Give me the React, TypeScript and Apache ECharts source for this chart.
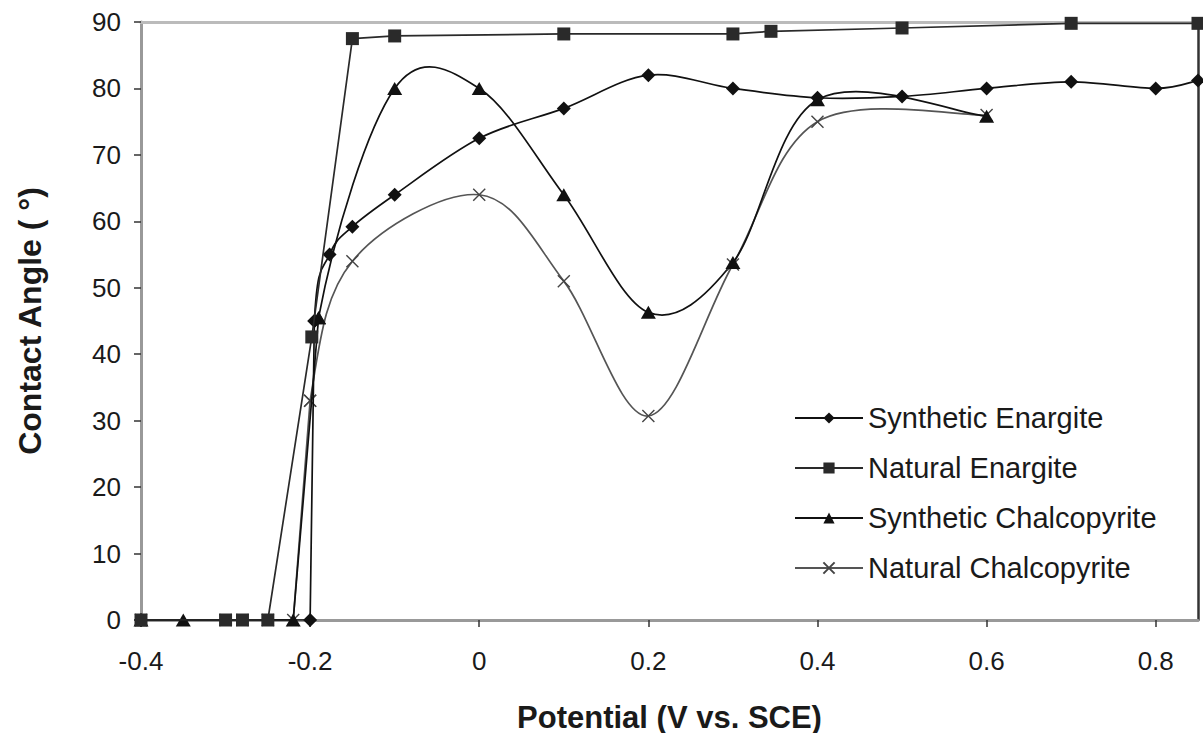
import { useEffect, useRef } from "react";
import * as echarts from "echarts";

// Axis ranges (potential in V vs. SCE, contact angle in degrees)
const xRange = { min: -0.4, max: 0.85, interval: 0.2 };
const yRange = { min: 0, max: 90, interval: 10 };

const names = [
  "Synthetic Enargite",
  "Natural Enargite",
  "Synthetic Chalcopyrite",
  "Natural Chalcopyrite",
];

// [potential, contact angle]
const syntheticEnargite: number[][] = [
  [-0.4, 0], [-0.2, 0], [-0.195, 45], [-0.177, 55], [-0.15, 59.2], [-0.1, 64],
  [0, 72.5], [0.1, 77], [0.2, 82], [0.3, 80], [0.4, 78.6], [0.5, 78.8],
  [0.6, 80], [0.7, 81], [0.8, 80], [0.85, 81.2],
];
const naturalEnargite: number[][] = [
  [-0.4, 0], [-0.3, 0], [-0.28, 0], [-0.25, 0], [-0.198, 42.6], [-0.15, 87.5],
  [-0.1, 87.9], [0.1, 88.2], [0.3, 88.2], [0.345, 88.6], [0.5, 89.1],
  [0.7, 89.8], [0.85, 89.8],
];
const syntheticChalcopyrite: number[][] = [
  [-0.4, 0], [-0.35, 0], [-0.22, 0], [-0.19, 45.5], [-0.1, 80], [0, 80],
  [0.1, 64], [0.2, 46.3], [0.3, 53.8], [0.4, 78.3], [0.6, 75.8],
];
const naturalChalcopyrite: number[][] = [
  [-0.4, 0], [-0.3, 0], [-0.28, 0], [-0.25, 0], [-0.22, 0], [-0.2, 33],
  [-0.15, 54], [0, 64], [0.1, 51], [0.2, 30.7], [0.3, 53.5], [0.4, 75],
  [0.6, 76],
];

// index of the first point after the sharp take-off from zero;
// from there on the series is drawn as a smoothed curve
const takeOff = { synE: 2, synC: 3, natC: 5 };

const crossSymbol = "path://M0,0L10,10M10,0L0,10";

// Smoothed line through the points (Catmull-Rom segments as cubic Beziers),
// positioned with the chart's own coordinate system.
function smoothCurve(pts: number[][], before: number[] | null, color: string, width: number) {
  return {
    type: "custom",
    coordinateSystem: "cartesian2d",
    data: pts,
    encode: { x: 0, y: 1 },
    silent: true,
    z: 2,
    renderItem: (params: any, api: any) => {
      const i = params.dataIndex;
      if (i >= pts.length - 1) return { type: "group", children: [] };
      const p1 = api.coord(pts[i]);
      const p2 = api.coord(pts[i + 1]);
      const p0 = i > 0 ? api.coord(pts[i - 1]) : before ? api.coord(before) : p1;
      const p3 = i + 2 < pts.length ? api.coord(pts[i + 2]) : p2;
      const k = 1 / 6;
      return {
        type: "bezierCurve",
        shape: {
          x1: p1[0],
          y1: p1[1],
          x2: p2[0],
          y2: p2[1],
          cpx1: p1[0] + (p2[0] - p0[0]) * k,
          cpy1: p1[1] + (p2[1] - p0[1]) * k,
          cpx2: p2[0] - (p3[0] - p1[0]) * k,
          cpy2: p2[1] - (p3[1] - p1[1]) * k,
        },
        style: { stroke: color, lineWidth: width, fill: null },
      };
    },
  };
}

export default function App() {
  const ref = useRef<HTMLDivElement>(null);

  useEffect(() => {
    if (!ref.current) return;
    const chart = echarts.init(ref.current, undefined, { renderer: "svg" });
    const font = "'Liberation Sans', Arial, sans-serif";

    const black = "#111";
    const squareColor = "#2a2a2a";
    const grey = "#555";
    const lw = 1.7;

    const markers = (
      name: string,
      data: number[][],
      color: string,
      symbol: string,
      symbolSize: number | number[],
      showLine: boolean,
      cross = false,
      z = 3
    ) => ({
      type: "line",
      name,
      data,
      smooth: false,
      symbol,
      symbolSize,
      z,
      lineStyle: { color, width: lw, opacity: showLine ? 1 : 0 },
      itemStyle: cross
        ? { color: "rgba(0,0,0,0)", borderColor: "#444", borderWidth: 1.4 }
        : { color, borderWidth: 0 },
      emphasis: { disabled: true },
    });

    const synE = (d: number[][], showLine: boolean) =>
      markers(names[0], d, black, "diamond", 14, showLine, false, 4);
    const synC = (d: number[][], showLine: boolean) =>
      markers(names[2], d, black, "triangle", [15, 13], showLine, false, 4);
    const natC = (d: number[][], showLine: boolean) =>
      markers(names[3], d, grey, crossSymbol, 12, showLine, true, 3);

    chart.setOption({
      animation: false,
      textStyle: { fontFamily: font },
      grid: { left: 141, right: 5, top: 22, bottom: 113, outerBoundsMode: "none", containLabel: false },
      legend: {
        orient: "vertical",
        left: 789,
        top: 398,
        itemWidth: 68,
        itemHeight: 14,
        itemGap: 20,
        data: names,
        textStyle: { fontSize: 29, color: "#1a1a1a", fontFamily: font, lineHeight: 30 },
        selectedMode: false,
      },
      xAxis: [
        {
          type: "value",
          min: xRange.min,
          max: xRange.max,
          interval: xRange.interval,
          name: "Potential (V vs. SCE)",
          nameLocation: "middle",
          nameGap: 83,
          nameTextStyle: { fontSize: 31, lineHeight: 28, fontWeight: "bold", color: "#1a1a1a" },
          axisLine: { onZero: false, lineStyle: { color: "#999", width: 3 } },
          axisTick: { show: true, length: 7, lineStyle: { color: "#333", width: 1.5 } },
          axisLabel: {
            fontSize: 26,
            color: "#1a1a1a",
            margin: 28,
            showMaxLabel: false,
            formatter: (v: number) => String(Math.round(v * 10) / 10),
          },
          splitLine: { show: false },
        },
        {
          type: "value",
          position: "top",
          min: xRange.min,
          max: xRange.max,
          axisLine: { onZero: false, lineStyle: { color: "#bbb", width: 3 } },
          axisTick: { show: false },
          axisLabel: { show: false },
          splitLine: { show: false },
        },
      ],
      yAxis: [
        {
          type: "value",
          min: yRange.min,
          max: yRange.max,
          interval: yRange.interval,
          name: "Contact Angle ( °)",
          nameLocation: "middle",
          nameGap: 95,
          nameTextStyle: { fontSize: 32, fontWeight: "bold", color: "#1a1a1a" },
          axisLine: { show: true, onZero: false, lineStyle: { color: "#999", width: 3 } },
          axisTick: { show: true, length: 7, lineStyle: { color: "#333", width: 1.5 } },
          axisLabel: { fontSize: 26, color: "#1a1a1a", margin: 20 },
          splitLine: { show: false },
        },
        {
          type: "value",
          position: "right",
          min: yRange.min,
          max: yRange.max,
          axisLine: { show: true, onZero: false, lineStyle: { color: "#333", width: 2.5 } },
          axisTick: { show: false },
          axisLabel: { show: false },
          splitLine: { show: false },
        },
      ],
      series: [
        natC(naturalChalcopyrite.slice(0, takeOff.natC + 1), true),
        natC(naturalChalcopyrite.slice(takeOff.natC), false),
        smoothCurve(
          naturalChalcopyrite.slice(takeOff.natC),
          naturalChalcopyrite[takeOff.natC - 1],
          grey,
          lw
        ),
        markers(names[1], naturalEnargite, squareColor, "rect", 13, true, false, 5),
        synC(syntheticChalcopyrite.slice(0, takeOff.synC + 1), true),
        synC(syntheticChalcopyrite.slice(takeOff.synC), false),
        smoothCurve(
          syntheticChalcopyrite.slice(takeOff.synC),
          syntheticChalcopyrite[takeOff.synC - 1],
          black,
          lw
        ),
        synE(syntheticEnargite.slice(0, takeOff.synE + 1), true),
        synE(syntheticEnargite.slice(takeOff.synE), false),
        smoothCurve(
          syntheticEnargite.slice(takeOff.synE),
          syntheticEnargite[takeOff.synE - 1],
          black,
          lw
        ),
      ],
    });

    return () => chart.dispose();
  }, []);

  return (
    <div
      ref={ref}
      style={{ position: "fixed", left: 0, top: 0, width: 1203, height: 733, background: "#fff" }}
    />
  );
}
